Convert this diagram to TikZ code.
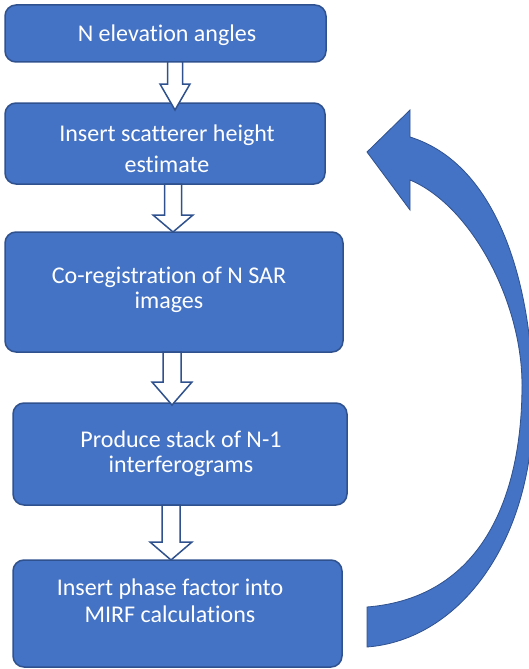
\documentclass[tikz,border=0pt]{standalone}
\usepackage{fontspec}
\setmainfont[Ligatures=NoCommon]{Carlito}
\usetikzlibrary{calc}
\definecolor{boxfill}{HTML}{4472C4}
\definecolor{boxline}{HTML}{2F528F}
\tikzset{
  stepbox/.style={draw=boxline, fill=boxfill, line width=1.5pt, rounded corners=11pt, inner sep=0pt, outer sep=0pt, rectangle},
  lbl/.style={text=white, anchor=base, align=center, inner sep=0pt, font=\fontsize{24}{26}\selectfont},
  hollow/.style={draw=boxline, fill=white, line width=1.5pt, line join=miter},
  bigarrow/.style={draw=boxline, fill=boxfill, line width=0.8pt, line join=miter}
}
% #1 from, #2 to, #3 x centre, #4 shaft half width, #5 head half width, #6 head length, #7 overlap
\newcommand\hollowarr[7]{%
  \draw[hollow] let \p1=(#1.south), \p2=(#2.north) in
    (#3pt-#4pt,\y1) -- (#3pt-#4pt,\y2+#6pt+#7pt) -- (#3pt-#5pt,\y2+#6pt+#7pt)
    -- (#3pt,\y2-#7pt) -- (#3pt+#5pt,\y2+#6pt+#7pt) -- (#3pt+#4pt,\y2+#6pt+#7pt)
    -- (#3pt+#4pt,\y1) -- cycle;}
\begin{document}
\begin{tikzpicture}[x=1pt,y=-1pt]
\useasboundingbox (0,0) rectangle (529,669);

% boxes
\node[stepbox, minimum width=321pt, minimum height=57pt]  (b1) at (165.5,33.5) {};
\node[stepbox, minimum width=320pt, minimum height=81pt]  (b2) at (165,143.5) {};
\node[stepbox, minimum width=338pt, minimum height=120pt] (b3) at (174,292) {};
\node[stepbox, minimum width=334pt, minimum height=102pt] (b4) at (180,454) {};
\node[stepbox, minimum width=329pt, minimum height=107pt] (b5) at (177.5,613.5) {};

% hollow connectors
\hollowarr{b1}{b2}{175}{7.5}{15}{12}{7}
\hollowarr{b2}{b3}{173}{8.5}{20}{17}{0}
\hollowarr{b3}{b4}{172}{9}{20}{19}{2}
\hollowarr{b4}{b5}{171}{9}{21}{18}{0}

% texts (anchor at the baseline of the last line)
\node[lbl] (t1) at (167,42) {N elevation angles};
\node[lbl, font=\fontsize{24}{31}\selectfont] (t2) at (167,172) {Insert scatterer height\\estimate};
\node[lbl, font=\fontsize{24}{25}\selectfont] (t3) at (169,308) {Co-registration of N SAR\\images};
\node[lbl, font=\fontsize{24}{24.5}\selectfont] (t4) at (181,472) {Produce stack of N-1\\interferograms};
\node[lbl, font=\fontsize{24}{26.5}\selectfont] (t5) at (170,622) {Insert phase factor into\\MIRF calculations};

% curved feedback arrow
\coordinate (tailin) at (367,607);
\coordinate (tailout) at (367,647);
\coordinate (tip) at (367,152);
\draw[bigarrow] (tailin) .. controls (480,598) and (522,500) .. (522,385)
  .. controls (522,300) and (470,205) .. (410,180)
  -- (410,210) -- (tip) -- (410,110) -- (410,137)
  .. controls (500,165) and (533,290) .. (533,400)
  .. controls (535,540) and (460,640) .. (tailout) -- cycle;
\end{tikzpicture}
\end{document}
